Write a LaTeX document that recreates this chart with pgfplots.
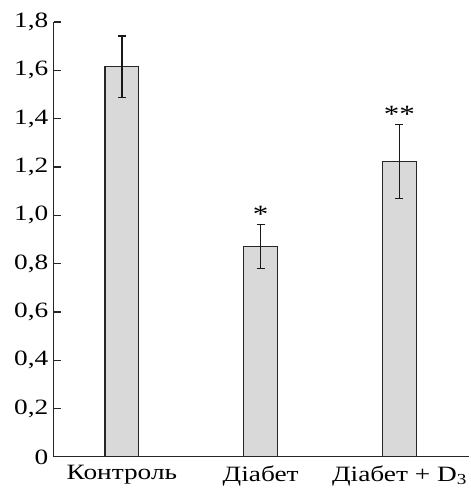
\documentclass[border=0pt]{standalone}
\usepackage{pgfplots}
\pgfplotsset{compat=1.18}
\usepackage{fontspec}
\setmainfont[FakeStretch=1.25]{Liberation Serif}
\begin{document}
\begin{tikzpicture}
\begin{axis}[
  name=main,
  scale only axis,
  width=416bp, height=436bp,
  xmin=-0.49, xmax=2.5,
  ymin=0, ymax=1.8,
  axis lines=left,
  axis line style={line width=1.2bp, black!85, -},
  xtick={0,1,2},
  xticklabels={Контроль, Діабет, {Діабет + D\textsubscript{3}}},
  x tick style={draw=none},
  ytick={0,0.2,0.4,0.6,0.8,1.0,1.2,1.4,1.6,1.8},
  yticklabels={0,{0,2},{0,4},{0,6},{0,8},{1,0},{1,2},{1,4},{1,6},{1,8}},
  tick align=inside,
  major tick length=7bp,
  y tick style={line width=1.2bp, black!85},
  tick label style={font=\fontsize{22}{26}\selectfont},
  yticklabel style={xshift=-2bp},
  xticklabel style={yshift=-5bp},
  clip=false,
]
\addplot[ybar, bar width=34bp, fill=gray!30, draw=black!85, line width=1.2bp,
  error bars/.cd, y dir=both, y explicit,
  error bar style={line width=1.3bp, black!90},
  error mark options={rotate=90, mark size=4bp, line width=1.3bp, black!90}]
  coordinates {
    (0,1.614) +- (0,0.128)
    (1,0.871) +- (0,0.091)
    (2,1.222) +- (0,0.153)
  };
\addplot[draw=none, mark=none, nodes near coords, point meta=explicit symbolic,
  nodes near coords style={anchor=south, yshift=1bp, font=\fontsize{25}{28}\selectfont, inner sep=1bp}]
  coordinates {
    (1,0.962) [*]
    (2,1.375) [**]
  };
\end{axis}
\path ([yshift=22bp,xshift=-54bp]main.north west) rectangle (main.south west);
\end{tikzpicture}
\end{document}
